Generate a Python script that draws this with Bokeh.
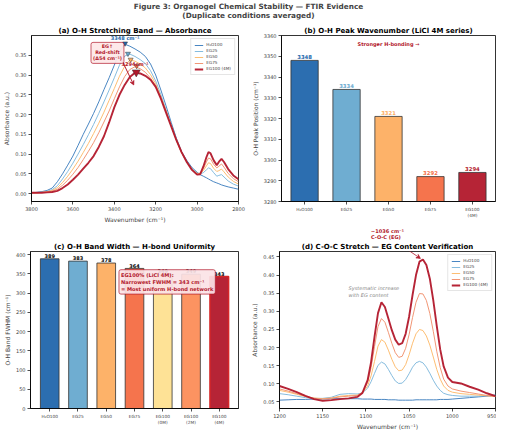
from bokeh.plotting import figure
from bokeh.models import (Range1d, FixedTicker, Label, Arrow, VeeHead, Legend,
                          LegendItem, NumeralTickFormatter, Title)
from bokeh.layouts import column, row
from bokeh.embed import file_html
from bokeh.resources import INLINE
from bokeh.core.properties import value

FONT = "DejaVu Sans"

# ---------------- data ----------------
SERIES = ["H₂O100", "EG25", "EG50", "EG75", "EG100 (4M)"]

WN_OH = [3800, 3775, 3750, 3725, 3700, 3675, 3650, 3625, 3600, 3575, 3550, 3525,
         3500, 3475, 3450, 3425, 3400, 3375, 3350, 3325, 3300, 3275, 3250, 3225,
         3200, 3175, 3150, 3125, 3100, 3075, 3050, 3025, 3000,
         2985, 2970, 2955, 2945, 2935, 2920, 2905, 2895, 2882, 2870, 2850, 2825, 2800]
OH_H2O100 = [.002, .003, .005, .008, .014, .030, .050, .072, .095, .122, .150, .176,
             .203, .232, .263, .293, .325, .358, .378, .373, .366, .358, .347, .328,
             .300, .262, .222, .180, .140, .106, .084, .066, .054,
             .048, .044, .040, .037, .034, .030, .027, .025, .022, .020, .017, .014, .011]
OH_EG25 = [.002, .003, .004, .006, .010, .020, .037, .056, .077, .100, .124, .149,
           .175, .203, .232, .262, .293, .325, .348, .353, .347, .339, .329, .311,
           .285, .250, .212, .173, .136, .104, .081, .063, .052,
           .050, .053, .060, .065, .063, .053, .044, .046, .048, .042, .032, .024, .019]
OH_EG50 = [.002, .002, .003, .005, .008, .015, .028, .044, .062, .082, .104, .127,
           .152, .178, .206, .236, .266, .297, .322, .338, .335, .328, .318, .301,
           .278, .245, .210, .172, .135, .103, .080, .062, .051,
           .051, .058, .070, .078, .076, .064, .056, .058, .062, .055, .042, .031, .024]
OH_EG75 = [.002, .002, .003, .004, .006, .011, .021, .034, .049, .066, .086, .107,
           .129, .154, .181, .209, .240, .270, .296, .314, .321, .316, .307, .292,
           .273, .243, .208, .171, .135, .103, .080, .061, .049,
           .052, .063, .080, .090, .088, .074, .065, .069, .075, .067, .051, .038, .030]
OH_EG100 = [.002, .002, .002, .003, .004, .007, .014, .023, .035, .048, .063, .078,
            .095, .118, .145, .180, .218, .250, .275, .295, .306, .304, .298, .288,
            .270, .240, .205, .170, .135, .105, .080, .060, .048,
            .049, .068, .092, .105, .102, .084, .072, .080, .088, .080, .062, .046, .036]

PEAK_WN = [3348, 3334, 3321, 3292, 3294]
PEAK_ABS = [0.380, 0.354, 0.339, 0.323, 0.307]
B_LABELS = ["H₂O100", "EG25", "EG50", "EG75", "EG100\n(4M)"]

C_LABELS = ["H₂O100", "EG25", "EG50", "EG75", "EG100\n(0M)", "EG100\n(2M)", "EG100\n(4M)"]
FWHM = [389, 383, 378, 364, 349, 349, 343]

WN_COC = [1200, 1190, 1180, 1170, 1160, 1150, 1140, 1130, 1120, 1110, 1104, 1098,
          1094, 1090, 1086, 1082, 1078, 1074, 1070, 1066, 1062, 1058, 1054, 1050,
          1046, 1042, 1038, 1034, 1030, 1026, 1022, 1018, 1014, 1010, 1005, 1000,
          990, 980, 970, 960, 950]
COC_H2O100 = [.055, .056, .057, .057, .058, .058, .059, .059, .059, .059, .058, .058,
              .058, .057, .057, .057, .057, .056, .056, .056, .055, .055, .055, .055,
              .055, .056, .056, .056, .056, .056, .056, .056, .057, .057, .057, .058,
              .060, .062, .064, .066, .068]
COC_EG25 = [.073, .070, .066, .062, .060, .060, .063, .071, .073, .072, .075, .088,
            .106, .129, .151, .160, .155, .140, .123, .108, .101, .102, .112, .128,
            .146, .158, .162, .158, .146, .129, .110, .094, .082, .074, .070, .068,
            .066, .066, .066, .067, .070]
COC_EG50 = [.082, .077, .071, .065, .061, .059, .061, .066, .068, .069, .075, .094,
            .122, .162, .204, .222, .215, .193, .168, .147, .136, .138, .153, .180,
            .212, .238, .250, .247, .232, .207, .174, .140, .113, .094, .082, .077,
            .073, .071, .069, .067, .065]
COC_EG75 = [.086, .080, .073, .066, .060, .058, .060, .064, .066, .068, .076, .104,
            .145, .203, .258, .280, .270, .242, .212, .186, .173, .176, .198, .236,
            .283, .325, .349, .348, .330, .294, .245, .190, .145, .113, .094, .086,
            .080, .076, .072, .068, .065]
COC_EG100 = [.094, .086, .077, .067, .058, .053, .055, .058, .060, .064, .075, .110,
             .160, .230, .295, .325, .312, .280, .248, .222, .208, .212, .238, .285,
             .345, .400, .437, .443, .428, .390, .330, .260, .195, .148, .117, .105,
             .101, .092, .084, .074, .066]

LINE_COLORS = ["#3f7fbf", "#7fb8dc", "#fdbb6c", "#f0906e", "#b2182b"]
LINE_WIDTHS = [1.0, 1.0, 1.0, 1.0, 1.9]
B_COLORS = ["#2166ac", "#67a9cf", "#fdae61", "#f46d43", "#b2182b"]
C_COLORS = ["#2166ac", "#67a9cf", "#fdae61", "#f46d43", "#fee090", "#fc8d59", "#b2182b"]
RED = "#b2182b"


def add_title(p, text, size="7px", color="black", standoff=2, offset=0):
    p.add_layout(Title(text=text, text_font=FONT, text_font_size=size, text_font_style="bold",
                       text_color=color, align="center", standoff=standoff, offset=offset),
                 "above")


def style(p, tick_size="5px"):
    p.xgrid.visible = False
    p.ygrid.visible = False
    p.outline_line_color = "black"
    p.outline_line_width = 0.8
    p.background_fill_color = "white"
    p.border_fill_color = "white"
    for ax in p.axis:
        ax.major_tick_out = 3
        ax.major_tick_in = 0
        ax.minor_tick_line_color = None
        ax.major_tick_line_width = 0.7
        ax.axis_line_width = 0.8
        ax.major_label_text_font = FONT
        ax.major_label_text_font_size = tick_size
        ax.major_label_standoff = 2
        ax.axis_label_text_font = FONT
        ax.axis_label_text_font_size = "6px"
        ax.axis_label_text_font_style = "normal"
        ax.axis_label_standoff = 2


def add_legend(p, renderers):
    lg = Legend(items=[LegendItem(label=s, renderers=[r]) for s, r in zip(SERIES, renderers)],
                location="top_right")
    lg.label_text_font = FONT
    lg.label_text_font_size = "4.2px"
    lg.glyph_width = 9
    lg.glyph_height = 4
    lg.label_height = 4
    lg.label_standoff = 3
    lg.spacing = 1
    lg.padding = 3
    lg.margin = 3
    lg.border_line_color = "#cccccc"
    lg.border_line_width = 0.6
    lg.background_fill_alpha = 0.85
    p.add_layout(lg)


def make_fig(w, h, xr, yr, mbt, mbr):
    return figure(width=w, height=h, x_range=Range1d(*xr), y_range=Range1d(*yr),
                  output_backend="svg", toolbar_location=None, min_border_top=mbt,
                  min_border_bottom=22, min_border_right=mbr, min_border_left=10)


# ---------------- suptitle ----------------
pt = figure(width=496, height=23, x_range=Range1d(0, 1), y_range=Range1d(0, 1),
            output_backend="svg", toolbar_location=None, min_border=0)
pt.axis.visible = False
pt.grid.visible = False
pt.outline_line_color = None
for txt, yy in [("Figure 3: Organogel Chemical Stability — FTIR Evidence", 0.76),
                ("(Duplicate conditions averaged)", 0.36)]:
    pt.add_layout(Label(x=0.5, y=yy, text=txt, text_align="center", text_baseline="middle",
                        text_font=FONT, text_font_size="7.3px", text_font_style="bold"))

# ---------------- (a) ----------------
pa = make_fig(248, 202, (3800, 2800), (-0.02, 0.40), 10, 10)
add_title(pa, "(a) O-H Stretching Band — Absorbance")
style(pa)
pa.xaxis.ticker = FixedTicker(ticks=[3800, 3600, 3400, 3200, 3000, 2800])
pa.yaxis.ticker = FixedTicker(ticks=[0, .05, .10, .15, .20, .25, .30, .35])
pa.yaxis.formatter = NumeralTickFormatter(format="0.00")
pa.xaxis.axis_label = "Wavenumber (cm⁻¹)"
pa.yaxis.axis_label = "Absorbance (a.u.)"
ra = []
for ys, c, lw in zip([OH_H2O100, OH_EG25, OH_EG50, OH_EG75, OH_EG100], LINE_COLORS, LINE_WIDTHS):
    ra.append(pa.line(WN_OH, ys, line_color=c, line_width=lw, line_alpha=0.95))
pa.scatter(PEAK_WN[:4], PEAK_ABS[:4], marker="inverted_triangle", size=5,
           fill_color=B_COLORS[:4], line_color="#333333", line_width=0.5)
pa.scatter(PEAK_WN[4:], PEAK_ABS[4:], marker="inverted_triangle", size=8,
           fill_color=B_COLORS[4:], line_color="#333333", line_width=0.5)
pa.add_layout(Label(x=3348, y=0.394, text="3348 cm⁻¹", text_align="center",
                    text_baseline="middle", text_font=FONT, text_font_size="5px",
                    text_font_style="bold", text_color="#2166ac"))
pa.add_layout(Label(x=3300, y=0.327, text="3294cm⁻¹", text_align="center",
                    text_baseline="middle", text_font=FONT, text_font_size="5px",
                    text_font_style="bold", text_color=RED))
pa.add_layout(Arrow(end=VeeHead(size=4, line_color=RED, fill_color=RED, line_width=0.8),
                    x_start=3364, y_start=0.338, x_end=3306, y_end=0.275,
                    line_color=RED, line_width=1.0))
pa.add_layout(Label(x=3433, y=0.356, text="EG↑\nRed-shift\n(Δ54 cm⁻¹)", text_align="center",
                    text_baseline="middle", text_font=FONT, text_font_size="4.8px",
                    text_font_style="bold", text_color=RED, background_fill_color="#fde8e8",
                    background_fill_alpha=0.95, border_line_color=RED, border_line_width=0.7,
                    padding=2, border_radius=2))
add_legend(pa, ra)

# ---------------- (b) ----------------
pb = make_fig(248, 202, (-0.55, 4.55), (3280, 3360), 10, 1)
add_title(pb, "(b) O-H Peak Wavenumber (LiCl 4M series)")
style(pb)
xb = list(range(len(B_LABELS)))
pb.vbar(x=xb, top=PEAK_WN, bottom=3280, width=0.65, fill_color=B_COLORS, fill_alpha=0.95,
        line_color="#333333", line_width=0.8)
pb.text(x=xb, y=[v + 0.7 for v in PEAK_WN], text=[str(v) for v in PEAK_WN],
        text_color=B_COLORS, text_font=value(FONT), text_font_size="5.3px",
        text_font_style="bold", text_align="center", text_baseline="bottom")
pb.xaxis.ticker = FixedTicker(ticks=xb)
pb.xaxis.major_label_overrides = {i: s for i, s in enumerate(B_LABELS)}
pb.xaxis.major_label_text_font_size = "4.3px"
pb.yaxis.ticker = FixedTicker(ticks=list(range(3280, 3361, 10)))
pb.yaxis.axis_label = "O-H Peak Position (cm⁻¹)"
pb.add_layout(Label(x=2, y=3356, text="Stronger H-bonding →", text_align="center",
                    text_baseline="middle", text_font=FONT, text_font_size="5px",
                    text_font_style="bold", text_color=RED))

# ---------------- (c) ----------------
pc = make_fig(248, 207, (-0.68, 6.68), (0, 408), 24, 10)
add_title(pc, "(c) O-H Band Width — H-bond Uniformity")
style(pc)
xc = list(range(len(C_LABELS)))
pc.vbar(x=xc[:-1], top=FWHM[:-1], bottom=0, width=0.66, fill_color=C_COLORS[:-1],
        fill_alpha=0.95, line_color="#333333", line_width=0.8)
pc.vbar(x=xc[-1:], top=FWHM[-1:], bottom=0, width=0.66, fill_color=C_COLORS[-1:],
        fill_alpha=0.95, line_color="#d62728", line_width=1.5)
pc.text(x=xc, y=[v + 2 for v in FWHM], text=[str(v) for v in FWHM], text_color="black",
        text_font=value(FONT), text_font_size="5px", text_font_style="bold",
        text_align="center", text_baseline="bottom")
pc.xaxis.ticker = FixedTicker(ticks=xc)
pc.xaxis.major_label_overrides = {i: s for i, s in enumerate(C_LABELS)}
pc.xaxis.major_label_text_font_size = "4.3px"
pc.yaxis.ticker = FixedTicker(ticks=list(range(0, 401, 50)))
pc.yaxis.axis_label = "O-H Band FWHM (cm⁻¹)"
pc.add_layout(Label(x=2.45, y=329,
                    text="EG100% (LiCl 4M):\nNarrowest FWHM = 343 cm⁻¹\n= Most uniform H-bond network",
                    text_align="left", text_baseline="middle", text_font=FONT,
                    text_font_size="5.1px", text_font_style="bold", text_color=RED,
                    background_fill_color="#fbe3e6", background_fill_alpha=0.92,
                    border_line_color=RED, border_line_width=0.7, padding=2, border_radius=2))

# ---------------- (d) ----------------
pd_ = make_fig(248, 207, (1200, 950), (0.032, 0.465), 24, 1)
add_title(pd_, "(d) C-O-C Stretch — EG Content Verification")
add_title(pd_, "~1036 cm⁻¹\nC-O-C (EG)", size="5px", color=RED, standoff=0, offset=-4)
style(pd_)
pd_.xaxis.ticker = FixedTicker(ticks=[1200, 1150, 1100, 1050, 1000, 950])
pd_.yaxis.ticker = FixedTicker(ticks=[.05, .10, .15, .20, .25, .30, .35, .40, .45])
pd_.yaxis.formatter = NumeralTickFormatter(format="0.00")
pd_.xaxis.axis_label = "Wavenumber (cm⁻¹)"
pd_.yaxis.axis_label = "Absorbance (a.u.)"
rd = []
for ys, c, lw in zip([COC_H2O100, COC_EG25, COC_EG50, COC_EG75, COC_EG100], LINE_COLORS, LINE_WIDTHS):
    rd.append(pd_.line(WN_COC, ys, line_color=c, line_width=lw, line_alpha=0.95))
pd_.add_layout(Label(x=1120, y=0.372, text="Systematic increase\nwith EG content",
                     text_align="left", text_baseline="top", text_font=FONT,
                     text_font_size="5px", text_font_style="italic", text_color="#888888"))
pd_.add_layout(Arrow(end=VeeHead(size=4, line_color=RED, fill_color=RED, line_width=0.8),
                     x_start=1070, y_start=0.50, x_end=1037, y_end=0.446,
                     line_color=RED, line_width=0.8))
add_legend(pd_, rd)

layout = column(pt, row(pa, pb), row(pc, pd_))
open("out.html", "w").write(file_html(layout, INLINE))
